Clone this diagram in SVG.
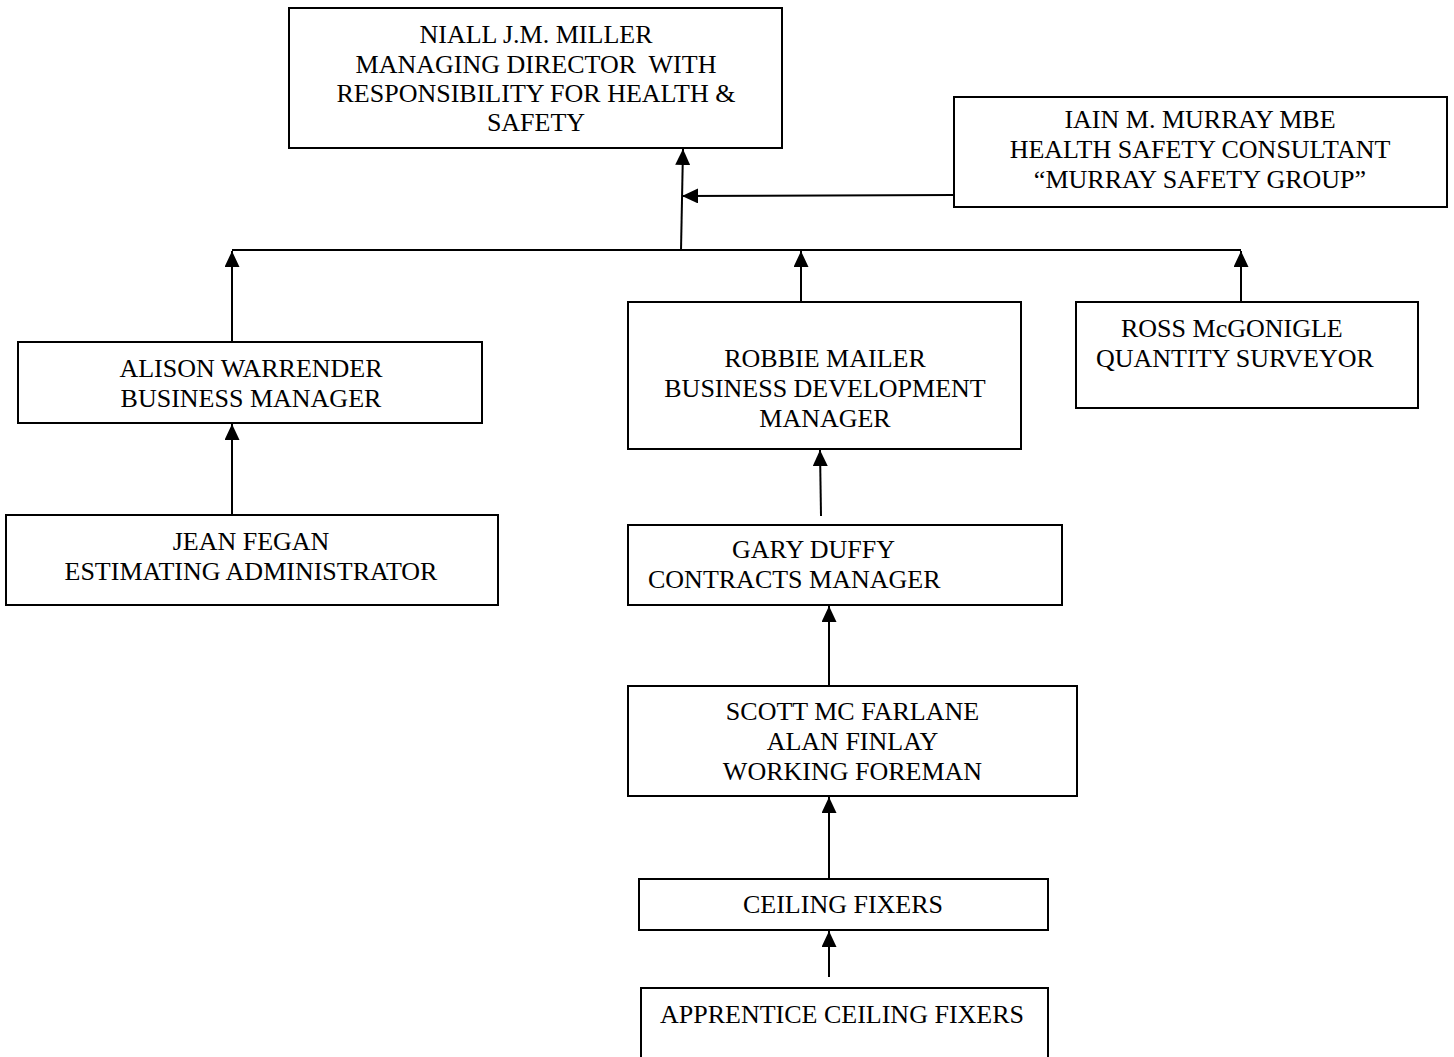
<svg xmlns="http://www.w3.org/2000/svg" width="1454" height="1057" viewBox="0 0 1454 1057">
<style>
.box{fill:#fff;stroke:#000;stroke-width:2}
.t{font-family:"Liberation Serif","Times New Roman",serif;font-size:26px;fill:#000}
.m{text-anchor:middle}
.c{fill:none;stroke:#000;stroke-width:2}
</style>
<defs>
<marker id="ah" markerUnits="userSpaceOnUse" markerWidth="16" markerHeight="15" refX="16" refY="7.5" orient="auto" viewBox="0 0 16 15">
<path d="M0,0 L16,7.5 L0,15 z" fill="#000"/>
</marker>
</defs>
<rect width="1454" height="1057" fill="#fff"/>
<g id="connectors">
<line class="c" x1="681" y1="250" x2="683" y2="149" marker-end="url(#ah)"/>
<line class="c" x1="954" y1="195" x2="682" y2="196" marker-end="url(#ah)"/>
<line class="c" x1="232" y1="250" x2="1241" y2="250"/>
<line class="c" x1="232" y1="342" x2="232" y2="251" marker-end="url(#ah)"/>
<line class="c" x1="801" y1="302" x2="801" y2="251" marker-end="url(#ah)"/>
<line class="c" x1="1241" y1="302" x2="1241" y2="251" marker-end="url(#ah)"/>
<line class="c" x1="232" y1="515" x2="232" y2="424" marker-end="url(#ah)"/>
<line class="c" x1="821" y1="516" x2="820" y2="450" marker-end="url(#ah)"/>
<line class="c" x1="829" y1="686" x2="829" y2="606" marker-end="url(#ah)"/>
<line class="c" x1="829" y1="879" x2="829" y2="797" marker-end="url(#ah)"/>
<line class="c" x1="829" y1="977" x2="829" y2="931" marker-end="url(#ah)"/>
</g>
<g id="miller">
<rect class="box" x="289" y="8" width="493" height="140"/>
<text class="t m" x="536" y="43">NIALL J.M. MILLER</text>
<text class="t m" x="536" y="72.5" xml:space="preserve">MANAGING DIRECTOR  WITH</text>
<text class="t m" x="536" y="102">RESPONSIBILITY FOR HEALTH &amp;</text>
<text class="t m" x="536" y="131">SAFETY</text>
</g>
<g id="murray">
<rect class="box" x="954" y="97" width="493" height="110"/>
<text class="t m" x="1200" y="128">IAIN M. MURRAY MBE</text>
<text class="t m" x="1200" y="158">HEALTH SAFETY CONSULTANT</text>
<text class="t m" x="1200" y="188">“MURRAY SAFETY GROUP”</text>
</g>
<g id="warrender">
<rect class="box" x="18" y="342" width="464" height="81"/>
<text class="t m" x="251" y="377">ALISON WARRENDER</text>
<text class="t m" x="251" y="407">BUSINESS MANAGER</text>
</g>
<g id="mailer">
<rect class="box" x="628" y="302" width="393" height="147"/>
<text class="t m" x="825" y="367">ROBBIE MAILER</text>
<text class="t m" x="825" y="397">BUSINESS DEVELOPMENT</text>
<text class="t m" x="825" y="427">MANAGER</text>
</g>
<g id="mcgonigle">
<rect class="box" x="1076" y="302" width="342" height="106"/>
<text class="t" x="1121" y="337">ROSS McGONIGLE</text>
<text class="t" x="1096" y="367">QUANTITY SURVEYOR</text>
</g>
<g id="fegan">
<rect class="box" x="6" y="515" width="492" height="90"/>
<text class="t m" x="251" y="550">JEAN FEGAN</text>
<text class="t m" x="251" y="580">ESTIMATING ADMINISTRATOR</text>
</g>
<g id="duffy">
<rect class="box" x="628" y="525" width="434" height="80"/>
<text class="t" x="732" y="558">GARY DUFFY</text>
<text class="t" x="648" y="588">CONTRACTS MANAGER</text>
</g>
<g id="foreman">
<rect class="box" x="628" y="686" width="449" height="110"/>
<text class="t m" x="852.5" y="720">SCOTT MC FARLANE</text>
<text class="t m" x="852.5" y="750">ALAN FINLAY</text>
<text class="t m" x="852.5" y="780">WORKING FOREMAN</text>
</g>
<g id="fixers">
<rect class="box" x="639" y="879" width="409" height="51"/>
<text class="t m" x="843" y="913">CEILING FIXERS</text>
</g>
<g id="apprentice">
<rect class="box" x="641" y="988" width="407" height="90"/>
<text class="t m" x="842" y="1023">APPRENTICE CEILING FIXERS</text>
</g>
</svg>
